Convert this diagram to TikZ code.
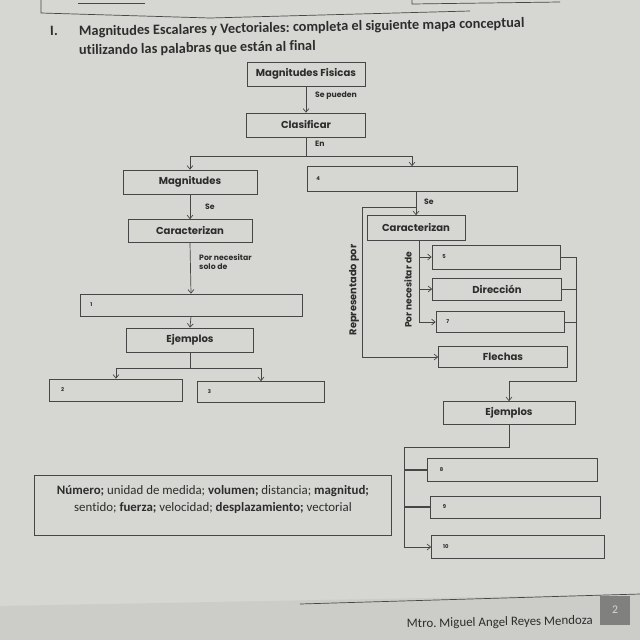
\documentclass[tikz,border=0pt]{standalone}
\usepackage{fontspec}
\setmainfont{Carlito}[Ligatures=NoCommon]
\newfontfamily\gfont{Poppins}
\usetikzlibrary{arrows.meta,calc}
\definecolor{paper}{RGB}{214,214,210}
\definecolor{paperdk}{RGB}{204,204,200}
\definecolor{ink}{RGB}{45,45,45}
\definecolor{lnc}{RGB}{70,70,70}
\definecolor{tabc}{RGB}{128,128,126}
\begin{document}
\frenchspacing
\begin{tikzpicture}[x=0.3mm,y=-0.3mm,
  box/.style 2 args={draw=lnc, line width=0.6pt, minimum width=#1*0.3mm, minimum height=#2*0.3mm, inner sep=0pt, font=\gfont\bfseries\fontsize{8.6}{9}\selectfont, text=ink},
  num/.style={anchor=west, inner sep=0pt, font=\gfont\bfseries\fontsize{4.5}{5}\selectfont, text=ink},
  lab/.style={inner sep=0pt, font=\gfont\bfseries\fontsize{6.6}{7.6}\selectfont, text=ink, align=left},
  conn/.style={draw=lnc, line width=0.6pt},
  arr/.style={conn, -{Straight Barb[length=3pt,width=5pt]}},
  ttl/.style={anchor=base west, inner sep=0pt, font=\bfseries\fontsize{12.2}{14}\selectfont, text=ink, rotate=1.1}
]
\fill[paper] (0,0) rectangle (640,640);
\useasboundingbox (0,0) rectangle (640,640);
\fill[paperdk] (0,606) -- (640,594) -- (640,640) -- (0,640) -- cycle;

% fragment of previous exercise
\draw[conn] (41,0) -- (41,13) -- (210,18) -- (470,11);
\draw[conn] (412,0) -- (412,4) -- (560,2);
\draw[conn] (78,3) -- (145,3);

% title
\node[ttl] (t0) at (50,36) {I.};
\node[ttl] (t1) at (79,36) {Magnitudes Escalares y Vectoriales: completa el siguiente mapa conceptual};
\node[ttl] (t2) at (79,55) {utilizando las palabras que están al final};

% nodes
\node[box={118}{24}] (mf) at (306,74) {Magnitudes Fisicas};
\node[box={119}{24}] (cl) at (306,125) {Clasificar};
\node[box={134}{24}] (mag) at (190,182) {Magnitudes};
\node[box={210}{25}] (b4) at (412,179) {};
\node[num] (n4) at ([xshift=8pt]b4.west) {4};
\node[box={124}{23}] (car1) at (190,231) {Caracterizan};
\node[box={222}{22}] (b1) at (191,305) {};
\node[num] (n1) at ([xshift=9pt]b1.west) {1};
\node[box={127}{24}] (ej1) at (190,340) {Ejemplos};
\node[box={133}{22}] (b2) at (116,390) {};
\node[num] (n2) at ([xshift=10pt]b2.west) {2};
\node[box={127}{21}] (b3) at (261,392) {};
\node[num] (n3) at ([xshift=9pt]b3.west) {3};
\node[box={98}{25}] (car2) at (416,228) {Caracterizan};
\node[box={128}{24}] (b5) at (496,257) {};
\node[num] (n5) at ([xshift=9pt]b5.west) {5};
\node[box={129}{22}] (dir) at (497,289) {Dirección};
\node[box={128}{21}] (b7) at (500,322) {};
\node[num] (n7) at ([xshift=9pt]b7.west) {7};
\node[box={129}{21}] (fle) at (503,357) {Flechas};
\node[box={132}{23}] (ej2) at (509,413) {Ejemplos};
\node[box={170}{23}] (b8) at (512,470) {};
\node[num] (n8) at ([xshift=11pt]b8.west) {8};
\node[box={170}{22}] (b9) at (515,507) {};
\node[num] (n9) at ([xshift=11pt]b9.west) {9};
\node[box={173}{23}] (b10) at (518,547) {};
\node[num] (n10) at ([xshift=10pt]b10.west) {10};

% word bank
\node[draw=lnc, line width=0.7pt, minimum width=357*0.3mm, minimum height=60*0.3mm, inner sep=0pt] (wb) at (213,505) {};
\node[font=\fontsize{11}{14.5}\selectfont, text=ink, align=center, inner sep=0pt] (wt) at (213,499)
  {\textbf{Número;} unidad de medida; \textbf{volumen;} distancia; \textbf{magnitud;}\\
   sentido; \textbf{fuerza;} velocidad; \textbf{desplazamiento;} vectorial};

% helper coordinates
\coordinate (ya) at (0,156);
\coordinate (yb) at (0,368);
\coordinate (yc) at (0,207);
\coordinate (rp) at (362,207);
\coordinate (px) at (419,0);
\coordinate (rx) at (576,0);
\coordinate (yd) at (0,381);
\coordinate (ye) at (0,447);
\coordinate (lx) at (404,0);

% left connectors
\draw[arr] (mf.south) -- (cl.north);
\node[lab, anchor=west] (l1) at (315,96) {Se pueden};
\draw[conn] (cl.south) -- (cl.south |- ya);
\draw[arr] (cl.south |- ya) -| (mag.north);
\draw[arr] (cl.south |- ya) -| (b4.north);
\node[lab, anchor=west] (l2) at (315,144) {En};
\draw[arr] (mag.south) -- (car1.north);
\node[lab, anchor=west] (l3) at (205,207) {Se};
\draw[arr] (car1.south) -- (b1.north);
\node[lab, anchor=west] (l4) at (199,262) {Por necesitar\\solo de};
\draw[arr] (b1.south) -- (ej1.north);
\draw[conn] (ej1.south) -- (ej1.south |- yb);
\draw[arr] (ej1.south |- yb) -| (b2.north);
\draw[arr] (ej1.south |- yb) -| (b3.north);

% right connectors
\draw[arr] (car2.north |- b4.south) -- (car2.north);
\node[lab, anchor=west] (l5) at (424,202) {Se};
\draw[arr] (car2.north |- yc) -- (rp) |- (fle.west);
\node[lab, rotate=90, font=\gfont\bfseries\fontsize{8.4}{9}\selectfont] (l6) at (354,290) {Representado por};
\draw[conn] (px |- car2.south) -- (px |- b7.west);
\draw[arr] (px |- b5.west) -- (b5.west);
\draw[arr] (px |- dir.west) -- (dir.west);
\draw[arr] (px |- b7.west) -- (b7.west);
\node[lab, rotate=90, font=\gfont\bfseries\fontsize{7.8}{8.5}\selectfont] (l7) at (408,290) {Por necesitar de};
\draw[arr] (b5.east) -- (b5.east -| rx) -- (rx |- yd) -| (ej2.north);
\draw[conn] (dir.east) -- (dir.east -| rx);
\draw[conn] (b7.east) -- (b7.east -| rx);
\draw[arr] (ej2.south) -- (ej2.south |- ye) -- (lx |- ye) -- (lx |- b10.west) -- (b10.west);
\draw[conn, line width=1.1pt] (lx |- b8.west) -- (b8.west);
\draw[conn, line width=1.1pt] (lx |- b9.west) -- (b9.west);

% footer
\draw[conn] (300,604) -- (640,594);
\node[fill=tabc, minimum width=30*0.3mm, minimum height=29*0.3mm, inner sep=0pt, text=paper, font=\fontsize{10}{12}\selectfont] (pg) at (615,610) {2};
\node[anchor=east, inner sep=0pt, text=ink, font=\fontsize{11}{13}\selectfont, rotate=1] (ft) at (593,621) {Mtro. Miguel Angel Reyes Mendoza};
\end{tikzpicture}
\end{document}
